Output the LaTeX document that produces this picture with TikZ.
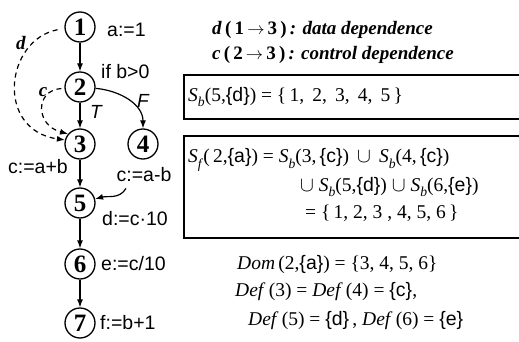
\documentclass[tikz,border=0pt]{standalone}
\usepackage{fontspec}
\setmainfont{Liberation Serif}
\setsansfont{Liberation Sans}
\usetikzlibrary{arrows.meta}
\newcommand\mySb{\textit{S}\raisebox{-0.3em}{\scalebox{0.7}{\textit{b}}}}
\newcommand\mySf{\textit{S}\raisebox{-0.3em}{\scalebox{0.7}{\textit{f}}}}
\newcommand\sset[1]{{\sffamily\{#1\}}}
\begin{document}
\begin{tikzpicture}[x=1pt,y=-1pt,
  num/.style={circle,draw,line width=1.3pt,minimum size=30pt,inner sep=0pt,font=\fontsize{25}{25}\selectfont\bfseries},
  lab/.style={font=\sffamily\fontsize{19.5}{20}\selectfont,inner sep=0pt},
  ilab/.style={font=\sffamily\itshape\fontsize{19}{20}\selectfont,inner sep=0pt},
  dlab/.style={font=\bfseries\itshape\fontsize{19}{20}\selectfont,inner sep=0pt},
  arr/.style={-{Latex[length=8pt,width=6pt]},line width=1.2pt},
  dep/.style={arr,dash pattern=on 5pt off 4pt},
  eq/.style={font=\fontsize{19.5}{22}\selectfont,anchor=west,inner sep=0pt},
  boxline/.style={line width=1.5pt}]
\useasboundingbox (0,0) rectangle (519,342);
% graph nodes
\node[num] (n1) at (80,27) {1};
\node[num] (n2) at (80,87) {2};
\node[num] (n3) at (80,144) {3};
\node[num] (n4) at (143,144) {4};
\node[num] (n5) at (80,203) {5};
\node[num] (n6) at (80,264) {6};
\node[num] (n7) at (80,323) {7};
% statement labels
\node[lab,anchor=west] (l1) at (107,30) {a:=1};
\node[lab,anchor=west] (l2) at (101,72) {if b>0};
\node[lab] (l3) at (38,167) {c:=a+b};
\node[lab] (l4) at (144,175) {c:=a-b};
\node[lab,anchor=west] (l5) at (102,219) {d:=c·10};
\node[lab,anchor=west] (l6) at (101,264) {e:=c/10};
\node[lab,anchor=west] (l7) at (100,323) {f:=b+1};
\node[ilab] (tT) at (96,112) {T};
\node[ilab] (tF) at (143,101) {F};
\node[dlab] (td) at (21,43) {d};
\node[dlab] (tc) at (43,92) {c};
% edges
\draw[arr] (n1) -- (n2);
\draw[arr] (n2) -- (n3);
\draw[arr] (n3) -- (n5);
\draw[arr] (n5) -- (n6);
\draw[arr] (n6) -- (n7);
\draw[arr] (n2.-5) to[out=-5,in=90] (n4.north);
\draw[dep,shorten <=7pt] (n1.185) .. controls (5,40) and (-5,130) .. (n3.165);
\draw[dep,shorten <=3pt] (n2.185) .. controls (35,90) and (35,125) .. (n3.140);
\coordinate (s4) at ([shift={(-18,6)}]l4.south);
\draw[arr] (s4) to[out=240,in=15] (n5.15);
% right side
\node[eq,font=\bfseries\fontsize{19}{22}\selectfont] (t1) at (212,30) {\textit{d}\,(\,1\,$\rightarrow$\,3\,)\,\textit{: data dependence}};
\node[eq,font=\bfseries\fontsize{19}{22}\selectfont] (t2) at (212,55) {\textit{c}\,(\,2\,$\rightarrow$\,3\,)\,\textit{: control dependence}};
\draw[boxline] (519,75) -| (184,119) -- (519,119);
\node[eq] (sb) at (188,97) {\mySb(5,\sset{d}) = \{\,1,\, 2,\, 3,\, 4,\, 5\,\}};
\draw[boxline] (519,136) -| (184,238) -- (519,238);
\node[eq] (sf1) at (188,160) {\mySf(\,2,\sset{a}) = \mySb(3,\,\sset{c})\, $\cup$\, \mySb(4,\,\sset{c})};
\node[eq] (sf2) at (300,187) {$\cup$ \mySb(5,\sset{d}) $\cup$ \mySb(6,\sset{e})};
\node[eq] (sf3) at (305,213) {= \{\,1, 2, 3 , 4, 5, 6\,\}};
\node[eq] (dom) at (237,265) {\textit{Dom}\,(2,\sset{a}) = \{3, 4, 5, 6\}};
\node[eq] (def1) at (235,292) {\textit{Def}\,(3) = \textit{Def}\,(4) = \sset{c},};
\node[eq] (def2) at (248,321) {\textit{Def}\,(5) = \sset{d}\,, \textit{Def}\,(6) = \sset{e}};
\end{tikzpicture}
\end{document}
